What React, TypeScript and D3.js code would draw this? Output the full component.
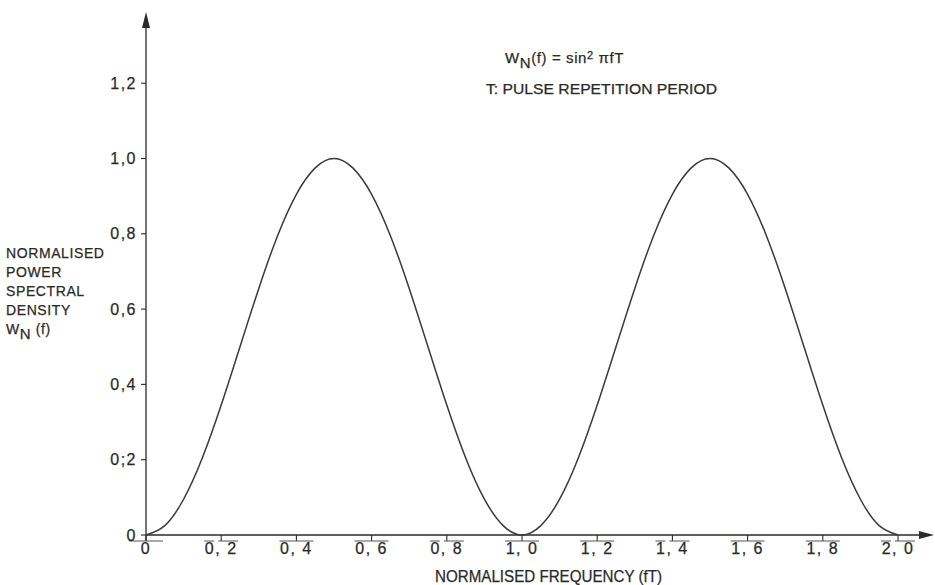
import { useEffect, useRef } from 'react';
import * as d3 from 'd3';

const width = 935;
const height = 585;
const margin = { top: 12, right: 0, bottom: 50, left: 146 };

// values (fT, W_N)
const freq = [0, 0.05, 0.1, 0.15, 0.2, 0.25, 0.3, 0.35, 0.4, 0.45, 0.5,
    0.55, 0.6, 0.65, 0.7, 0.75, 0.8, 0.85, 0.9, 0.95, 1.0,
    1.05, 1.1, 1.15, 1.2, 1.25, 1.3, 1.35, 1.4, 1.45, 1.5,
    1.55, 1.6, 1.65, 1.7, 1.75, 1.8, 1.85, 1.9, 1.95, 2.0];
const density = [0, 0.025, 0.095, 0.205, 0.345, 0.5, 0.655, 0.795, 0.905, 0.975, 1.0,
    0.975, 0.905, 0.795, 0.655, 0.5, 0.345, 0.205, 0.095, 0.025, 0,
    0.025, 0.095, 0.205, 0.345, 0.5, 0.655, 0.795, 0.905, 0.975, 1.0,
    0.975, 0.905, 0.795, 0.655, 0.5, 0.345, 0.205, 0.095, 0.025, 0];

const xTicks = [0, 0.2, 0.4, 0.6, 0.8, 1.0, 1.2, 1.4, 1.6, 1.8, 2.0];
const xTickLabels = ['0', '0, 2', '0, 4', '0, 6', '0, 8', '1, 0', '1, 2', '1, 4', '1, 6', '1, 8', '2, 0'];
const yTicks = [0, 0.2, 0.4, 0.6, 0.8, 1.0, 1.2];
const yTickLabels = ['0', '0;2', '0,4', '0,6', '0,8', '1,0', '1,2'];
const yTitle = ['NORMALISED', 'POWER', 'SPECTRAL', 'DENSITY'];

const ink = '#2a2a2a';
const font = '"Liberation Sans", Arial, sans-serif';

export default function App() {
    const ref = useRef<SVGSVGElement>(null);

    useEffect(() => {
        const svg = d3.select(ref.current);
        svg.selectAll('*').remove();

        const x = d3.scaleLinear().domain([0, 2]).range([margin.left, margin.left + 752]);
        const y = d3.scaleLinear().domain([0, 1]).range([height - margin.bottom, 158.5]);
        const y0 = y(0);

        const txt = (sel: any, size: number) => sel
            .attr('font-family', font).attr('font-size', size)
            .attr('fill', ink).attr('stroke', ink).attr('stroke-width', 0.25);

        // axes lines with arrows
        svg.append('line')
            .attr('x1', x(0)).attr('x2', width - 12)
            .attr('y1', y0).attr('y2', y0)
            .attr('stroke', ink).attr('stroke-width', 1.3);
        svg.append('path')
            .attr('d', `M${width - 1},${y0} L${width - 16},${y0 - 4} L${width - 16},${y0 + 4} Z`)
            .attr('fill', ink);
        svg.append('line')
            .attr('x1', x(0)).attr('x2', x(0))
            .attr('y1', y0 + 6).attr('y2', margin.top + 12)
            .attr('stroke', ink).attr('stroke-width', 1.3);
        svg.append('path')
            .attr('d', `M${x(0)},${margin.top} L${x(0) - 4},${margin.top + 16} L${x(0) + 4},${margin.top + 16} Z`)
            .attr('fill', ink);

        // x ticks
        const xt = svg.append('g').selectAll('g').data(xTicks).join('g')
            .attr('transform', d => `translate(${x(d)},0)`);
        xt.append('line')
            .attr('y1', y0).attr('y2', y0 + 6)
            .attr('stroke', ink).attr('stroke-width', 1.1);
        xt.append('line')
            .attr('x1', -17).attr('x2', 17)
            .attr('y1', y0 + 6).attr('y2', y0 + 6)
            .attr('stroke', '#555').attr('stroke-width', 1)
            .attr('stroke-dasharray', (d, i) => (i % 3 === 1 ? '10,4,20' : null));
        txt(xt.append('text'), 16)
            .attr('y', y0 + 19)
            .attr('text-anchor', 'middle')
            .attr('letter-spacing', 1.5)
            .text((d, i) => xTickLabels[i]);

        // y ticks
        const yt = svg.append('g').selectAll('g').data(yTicks).join('g')
            .attr('transform', d => `translate(0,${y(d)})`);
        yt.append('line')
            .attr('x1', x(0) - 5).attr('x2', x(0))
            .attr('stroke', ink).attr('stroke-width', 1.1);
        txt(yt.append('text'), 16)
            .attr('x', x(0) - 9)
            .attr('dy', '0.35em')
            .attr('text-anchor', 'end')
            .attr('letter-spacing', 1.5)
            .text((d, i) => yTickLabels[i]);

        // axis titles
        const yt2 = txt(svg.append('text'), 14).attr('letter-spacing', 0.6);
        yTitle.forEach((t, i) => {
            yt2.append('tspan').attr('x', 6).attr('y', 258 + i * 19).text(t);
        });
        const wn = txt(svg.append('text'), 14)
            .attr('x', 6).attr('y', 334)
            .attr('letter-spacing', 0.6);
        wn.append('tspan').text('W');
        wn.append('tspan').attr('dy', 5).attr('font-size', 15).text('N');
        wn.append('tspan').attr('dy', -5).text(' (f)');

        txt(svg.append('text'), 16)
            .attr('x', 435).attr('y', 582)
            .attr('textLength', 227)
            .attr('lengthAdjust', 'spacingAndGlyphs')
            .text('NORMALISED FREQUENCY (fT)');

        // formula note
        const f = txt(svg.append('text'), 15)
            .attr('x', 505).attr('y', 63)
            .attr('letter-spacing', 0.6);
        f.append('tspan').text('W');
        f.append('tspan').attr('dy', 5).text('N');
        f.append('tspan').attr('dy', -5).text('(f) = sin');
        f.append('tspan').attr('dy', -4).attr('font-size', 11).text('2');
        f.append('tspan').attr('dy', 4).text('  \u03c0fT');
        txt(svg.append('text'), 14)
            .attr('x', 486).attr('y', 94)
            .attr('textLength', 231)
            .attr('lengthAdjust', 'spacingAndGlyphs')
            .text('T: PULSE REPETITION PERIOD');

        // curve
        const line = d3.line<number>()
            .x((d, i) => x(freq[i]))
            .y(d => y(d))
            .curve(d3.curveNatural);
        svg.append('path')
            .datum(density)
            .attr('d', line)
            .attr('fill', 'none')
            .attr('stroke', '#3a3a3a')
            .attr('stroke-width', 1.5);
    }, []);

    return (
        <svg ref={ref} width={width} height={height}
            style={{ position: 'absolute', left: 0, top: 0, background: '#fff' }}>
        </svg>
    );
}
